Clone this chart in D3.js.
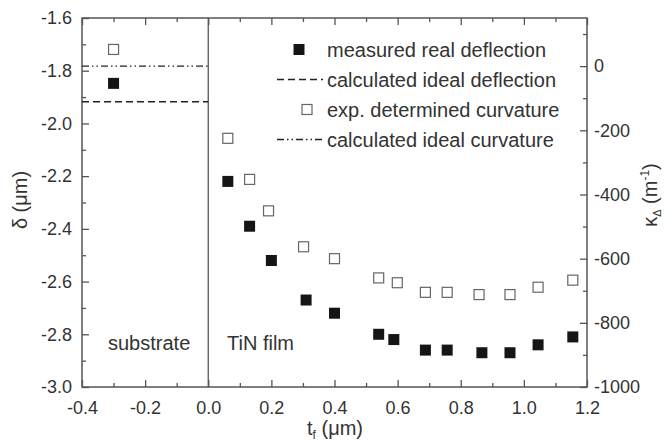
<!DOCTYPE html>
<html>
<head>
<meta charset="utf-8">
<script src="https://cdn.jsdelivr.net/npm/d3@7"></script>
<style>
  body { margin: 0; background: #fff; }
  svg text { font-family: "Liberation Sans", Arial, sans-serif; fill: #333; }
</style>
</head>
<body>
<svg id="chart" width="665" height="442"></svg>
<script>
// film thickness (um) of each measurement
const tfFilm = [0.062, 0.131, 0.2, 0.31, 0.40, 0.54, 0.588, 0.688, 0.757, 0.867, 0.956, 1.045, 1.155]
const tfCurv = [0.062, 0.131, 0.191, 0.302, 0.40, 0.54, 0.599, 0.688, 0.757, 0.858, 0.956, 1.045, 1.155]
// measured real deflection (um), left axis
const deflection = [-2.22, -2.39, -2.52, -2.67, -2.72, -2.80, -2.82, -2.86, -2.86, -2.87, -2.87, -2.84, -2.81]
// exp. determined curvature (1/m), right axis
const curvature = [-225, -353, -451, -563, -600, -660, -675, -705, -705, -712, -712, -689, -667]
// substrate only
const substrateT = -0.3
const substrateDefl = -1.848
const substrateCurv = 52
const idealDeflection = -1.918
const idealCurvature = 0

const tfTicks = [-0.4, -0.2, 0.0, 0.2, 0.4, 0.6, 0.8, 1.0, 1.2]
const deltaTicks = [-3.0, -2.8, -2.6, -2.4, -2.2, -2.0, -1.8, -1.6]
const kappaTicks = [-1000, -800, -600, -400, -200, 0]

const legendItems = ['measured real deflection', 'calculated ideal deflection',
  'exp. determined curvature', 'calculated ideal curvature']

//plot area
const margin = { left: 82, right: 587, top: 18, bottom: 387 }
const axisColor = '#555'

const svg = d3.select('#chart')

const x = d3.scaleLinear().domain([-0.4, 1.2]).range([margin.left, margin.right])
const yL = d3.scaleLinear().domain([-3.0, -1.6]).range([margin.bottom, margin.top])
const yR = d3.scaleLinear().domain([-1000, 150]).range([margin.bottom, margin.top])

//minor ticks halfway between majors
const mid = arr => arr.slice(1).map((v, i) => (v + arr[i]) / 2)
const tfMinor = mid(tfTicks)
const deltaMinor = mid(deltaTicks)
const kappaMinor = mid(kappaTicks).concat([100])

function styleAxis(g) {
  g.select('.domain').remove()
  g.selectAll('line').attr('stroke', axisColor).attr('stroke-width', 1.3)
  g.selectAll('text').attr('font-size', 18).attr('fill', '#333')
}

//bottom
svg.append('g').attr('transform', `translate(0,${margin.bottom})`)
  .call(d3.axisBottom(x).tickValues(tfTicks).tickSize(-7).tickSizeOuter(0).tickPadding(14)
    .tickFormat(d3.format('.1f')))
  .call(styleAxis)
svg.append('g').attr('transform', `translate(0,${margin.bottom})`)
  .call(d3.axisBottom(x).tickValues(tfMinor).tickSize(-4).tickFormat(''))
  .call(styleAxis)
//top
svg.append('g').attr('transform', `translate(0,${margin.top})`)
  .call(d3.axisTop(x).tickValues(tfTicks).tickSize(-7).tickFormat(''))
  .call(styleAxis)
svg.append('g').attr('transform', `translate(0,${margin.top})`)
  .call(d3.axisTop(x).tickValues(tfMinor).tickSize(-4).tickFormat(''))
  .call(styleAxis)
//left
svg.append('g').attr('transform', `translate(${margin.left},0)`)
  .call(d3.axisLeft(yL).tickValues(deltaTicks).tickSize(-7).tickPadding(10)
    .tickFormat(d3.format('.1f')))
  .call(styleAxis)
svg.append('g').attr('transform', `translate(${margin.left},0)`)
  .call(d3.axisLeft(yL).tickValues(deltaMinor).tickSize(-4).tickFormat(''))
  .call(styleAxis)
//right
svg.append('g').attr('transform', `translate(${margin.right},0)`)
  .call(d3.axisRight(yR).tickValues(kappaTicks).tickSize(-7).tickPadding(7)
    .tickFormat(d3.format('d')))
  .call(styleAxis)
svg.append('g').attr('transform', `translate(${margin.right},0)`)
  .call(d3.axisRight(yR).tickValues(kappaMinor).tickSize(-4).tickFormat(''))
  .call(styleAxis)

//hyphens like the original instead of unicode minus
svg.selectAll('.tick text').text(function () { return d3.select(this).text().replace('\u2212', '-') })

//frame
svg.append('rect')
  .attr('x', margin.left).attr('y', margin.top)
  .attr('width', margin.right - margin.left).attr('height', margin.bottom - margin.top)
  .attr('fill', 'none').attr('stroke', axisColor).attr('stroke-width', 1.5)

//substrate / film divider
svg.append('line')
  .attr('x1', x(0)).attr('x2', x(0)).attr('y1', margin.top).attr('y2', margin.bottom)
  .attr('stroke', axisColor).attr('stroke-width', 1.3)

//ideal lines in the substrate region
const dashed = '7,4'
const dashDot = '7,3,1.5,3,1.5,3'
svg.append('line')
  .attr('x1', x(-0.4)).attr('x2', x(0))
  .attr('y1', yL(idealDeflection)).attr('y2', yL(idealDeflection))
  .attr('stroke', '#222').attr('stroke-width', 1.4).attr('stroke-dasharray', dashed)
svg.append('line')
  .attr('x1', x(-0.4)).attr('x2', x(0))
  .attr('y1', yR(idealCurvature)).attr('y2', yR(idealCurvature))
  .attr('stroke', '#222').attr('stroke-width', 1.4).attr('stroke-dasharray', dashDot)

const sq = 11
const filled = tfFilm.map((t, i) => ({ x: t, y: deflection[i] }))
filled.push({ x: substrateT, y: substrateDefl })
const open = tfCurv.map((t, i) => ({ x: t, y: curvature[i] }))
open.push({ x: substrateT, y: substrateCurv })

svg.append('g').selectAll('rect')
  .data(open)
  .enter()
  .append('rect')
  .attr('x', d => x(d.x) - (sq - 1) / 2)
  .attr('y', d => yR(d.y) - (sq - 1) / 2)
  .attr('width', sq - 1).attr('height', sq - 1)
  .attr('fill', '#fff').attr('stroke', '#666').attr('stroke-width', 1.2)

svg.append('g').selectAll('rect')
  .data(filled)
  .enter()
  .append('rect')
  .attr('x', d => x(d.x) - sq / 2)
  .attr('y', d => yL(d.y) - sq / 2)
  .attr('width', sq).attr('height', sq)
  .attr('fill', '#151515')

//legend
const legend = svg.append('g')
legendItems.forEach((name, i) => {
  const ly = 49.5 + i * 30
  legend.append('text')
    .attr('x', 327).attr('y', ly + 7)
    .attr('font-size', 20)
    .text(name)
  if (i === 0) {
    legend.append('rect').attr('x', 299 - sq / 2).attr('y', ly - sq / 2)
      .attr('width', sq).attr('height', sq).attr('fill', '#151515')
  } else if (i === 2) {
    legend.append('rect').attr('x', 307 - (sq - 1) / 2).attr('y', ly - (sq - 1) / 2)
      .attr('width', sq - 1).attr('height', sq - 1)
      .attr('fill', '#fff').attr('stroke', '#666').attr('stroke-width', 1.2)
  } else {
    legend.append('line').attr('x1', 277).attr('x2', 323).attr('y1', ly).attr('y2', ly)
      .attr('stroke', '#222').attr('stroke-width', 1.4)
      .attr('stroke-dasharray', i === 1 ? dashed : dashDot)
  }
})

//region labels
svg.append('text').attr('x', 108).attr('y', 350).attr('font-size', 20).text('substrate')
svg.append('text').attr('x', 227).attr('y', 350).attr('font-size', 20).text('TiN film')

//axis titles
const xTitle = svg.append('text')
  .attr('x', 335).attr('y', 435).attr('text-anchor', 'middle').attr('font-size', 20)
xTitle.append('tspan').text('t')
xTitle.append('tspan').attr('font-size', 12).attr('dy', 4).text('f')
xTitle.append('tspan').attr('dy', -4).text(' (\u03bcm)')

svg.append('text')
  .attr('transform', `translate(27,200) rotate(-90)`)
  .attr('text-anchor', 'middle').attr('font-size', 20)
  .text('\u03b4 (\u03bcm)')

const rTitle = svg.append('text')
  .attr('transform', `translate(657,195) rotate(-90)`)
  .attr('text-anchor', 'middle').attr('font-size', 20)
rTitle.append('tspan').text('\u03ba')
rTitle.append('tspan').attr('font-size', 11).attr('dy', 4).text('\u0394')
rTitle.append('tspan').attr('dy', -4).text(' (m')
rTitle.append('tspan').attr('font-size', 12).attr('dy', -8).text('-1')
rTitle.append('tspan').attr('dy', 8).text(')')
</script>
</body>
</html>
